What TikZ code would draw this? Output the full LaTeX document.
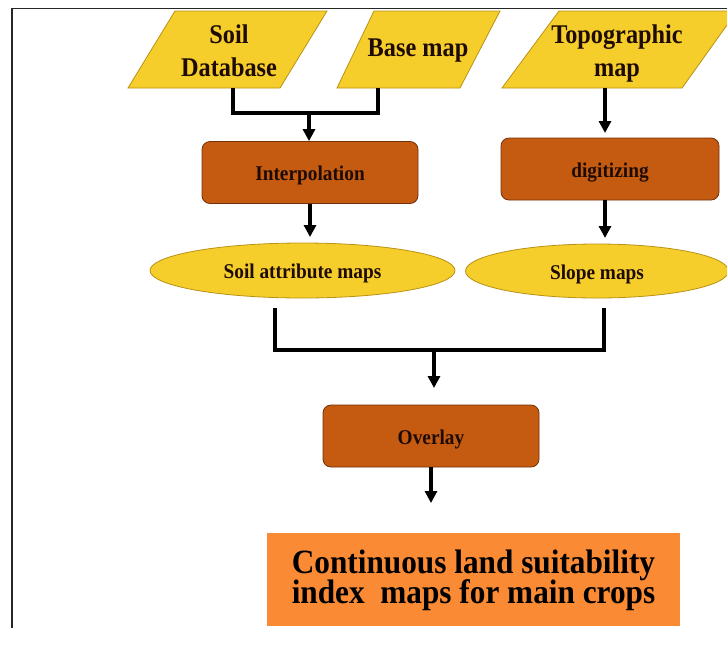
\documentclass[tikz,border=0pt]{standalone}
\usepackage{graphicx}
\usepackage{fontspec}
\setmainfont{Liberation Serif}
\usetikzlibrary{shapes.geometric,arrows.meta}
\definecolor{yel}{RGB}{246,206,43}
\definecolor{yelb}{RGB}{185,145,20}
\definecolor{brn}{RGB}{197,90,17}
\definecolor{brnb}{RGB}{115,48,10}
\definecolor{org}{RGB}{251,138,52}
\definecolor{txt}{RGB}{30,12,4}
\newcommand{\sqz}[2][0.9]{\scalebox{#1}[1]{\begin{tabular}{@{}c@{}}#2\end{tabular}}}
\newcommand{\btx}[1]{\raisebox{-4pt}[\height][\depth]{\sqz[0.92]{#1}}}
\begin{document}
\begin{tikzpicture}[x=1pt,y=-1pt,
  paratext/.style={align=center,font=\fontsize{27}{33}\selectfont\bfseries,text=txt,inner sep=0pt},
  para/.style={fill=yel,draw=yelb,line width=0.8pt},
  proc/.style={draw=brnb,line width=0.8pt,fill=brn,rounded corners=8pt,minimum width=216pt,minimum height=62pt,inner sep=0pt,font=\fontsize{21}{22}\selectfont\bfseries,text=txt},
  oval/.style={ellipse,draw=yelb,line width=0.8pt,fill=yel,inner sep=0pt,font=\fontsize{21}{22}\selectfont\bfseries,text=txt},
  result/.style={fill=org,minimum width=413pt,minimum height=93pt,inner sep=0pt,align=center,font=\fontsize{34}{30}\selectfont\bfseries,text=black},
  conn/.style={line width=3.5pt,black},
  arr/.style={conn,-{Triangle[width=12pt,length=12pt]}}
]
\useasboundingbox[fill=white] (0,0) rectangle (727,646);
\draw[line width=1.5pt,black!85] (12,628) -- (12,8.5) -- (727,8.5);

% input parallelograms
\path[para] (128,88) -- (280,88) -- (327,11) -- (175,11) -- cycle;
\path[para] (337,88) -- (460,88) -- (500,11) -- (374,11) -- cycle;
\path[para] (502,88) -- (682,88) -- (737,11) -- (559,11) -- cycle;
\node[paratext] (soil) at (229,53) {\sqz{Soil\\Database}};
\node[paratext] (base) at (418,50) {\sqz{Base map}};
\node[paratext] (topo) at (617,53) {\sqz{Topographic\\map}};
\coordinate (soilb) at (233,88);
\coordinate (baseb) at (378,88);
\coordinate (topob) at (605,88);

% processes
\node[proc] (interp) at (310,172.5) {\btx{Interpolation}};
\node[proc,minimum width=218pt] (digit) at (610,169) {\btx{digitizing}};
\node[oval,minimum width=305pt,minimum height=55pt] (attr) at (302.5,270.5) {\btx{Soil attribute maps}};
\node[oval,minimum width=263pt,minimum height=54pt] (slope) at (597,271) {\btx{Slope maps}};
\node[proc] (overlay) at (431,436) {\btx{Overlay}};
\node[result] (final) at (473.5,579.5) {\raisebox{-2pt}[\height][\depth]{\sqz[0.92]{Continuous land suitability\\[-3pt]index\ \ maps for main crops}}};

% connectors
\coordinate (j1) at (309,113);
\draw[conn] (soilb) -- (233,113) -- (378,113) -- (baseb);
\draw[arr] (j1) -- (j1 |- interp.north);
\draw[arr] (topob) -- (605,133);
\draw[arr] (interp.south) -- (310,237);
\draw[arr] (605,200) -- (605,238);
\coordinate (la) at (275,308);
\coordinate (ra) at (604,308);
\coordinate (j2) at (434,350);
\draw[conn] (la) -- (275,350) -- (604,350) -- (ra);
\draw[arr] (j2) -- (434,388);
\draw[arr] (overlay.south) -- (431,503);
\end{tikzpicture}
\end{document}
